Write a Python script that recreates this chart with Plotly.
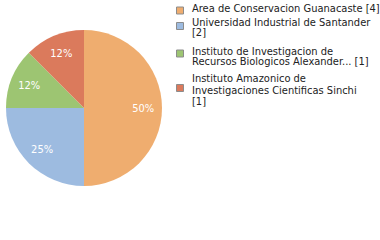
import plotly.graph_objects as go

labels = ["Area de Conservacion Guanacaste [4]",
          "Universidad Industrial de Santander<br>[2]",
          "Instituto de Investigacion de<br>Recursos Biologicos Alexander... [1]",
          "Instituto Amazonico de<br>Investigaciones Cientificas Sinchi<br>[1]"]
values = [4, 2, 1, 1]
pct_text = ["50%", "25%", "12%", "12%"]
colors = ["#EFAD6F", "#9DBBE0", "#9DC572", "#DB7A5C"]

W, H = 380, 240
FONT = "DejaVu Sans Condensed, DejaVu Sans, sans-serif"
dom = dict(x=[6/W, 162/W], y=[54/H, 210/H])

fig = go.Figure()
# coloured slices
fig.add_trace(go.Pie(
    labels=labels, values=values, textinfo="none",
    sort=False, direction="clockwise", rotation=0,
    marker=dict(colors=colors, line=dict(width=0)),
    domain=dom, showlegend=False, hoverinfo="label+percent",
))
# transparent ring that carries the percentage labels near the rim
fig.add_trace(go.Pie(
    labels=labels, values=values, text=pct_text, textinfo="text",
    sort=False, direction="clockwise", rotation=0, hole=0.52,
    marker=dict(colors=["rgba(0,0,0,0)"] * len(values), line=dict(width=0)),
    textfont=dict(color="white", size=11, family=FONT),
    insidetextorientation="horizontal", textposition="inside",
    domain=dom, showlegend=False, hoverinfo="skip",
))

# legend drawn at the right (layout constants in pixels)
text_x = 191
item_tops = [9, 22, 51, 79]      # centre of first text line of each entry
line_step = 11
marker_cy = [10.5, 26, 53.5, 88]
for i, (lab, col) in enumerate(zip(labels, colors)):
    for j, line in enumerate(lab.split("<br>")):
        fig.add_annotation(
            x=text_x / W, y=1 - (item_tops[i] + j * line_step) / H,
            xref="paper", yref="paper", xanchor="left", yanchor="middle",
            text=line, showarrow=False, borderpad=0,
            font=dict(family=FONT, size=11, color="#222222"),
        )
    cy = marker_cy[i]
    fig.add_shape(
        type="rect", xref="paper", yref="paper",
        x0=176.5 / W, x1=183.5 / W, y0=1 - (cy + 3.5) / H, y1=1 - (cy - 3.5) / H,
        fillcolor=col, line=dict(color="#8c8c8c", width=1),
    )

fig.update_layout(
    width=W, height=H, margin=dict(l=0, r=0, t=0, b=0),
    paper_bgcolor="white", plot_bgcolor="white",
    showlegend=False,
)
fig.write_html("out.html")
